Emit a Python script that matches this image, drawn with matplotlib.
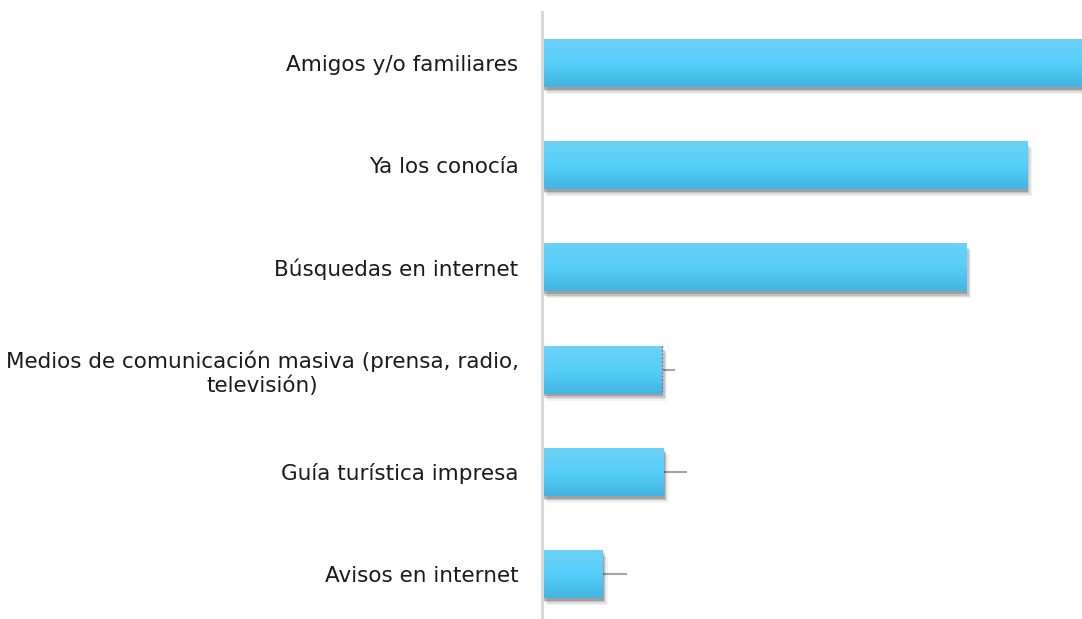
import numpy as np
import matplotlib
matplotlib.use('Agg')
import matplotlib.pyplot as plt
import matplotlib.patheffects as pe
from matplotlib.colors import LinearSegmentedColormap

# data (arbitrary % scale)
categories = ['Amigos y/o familiares',
              'Ya los conocía',
              'Búsquedas en internet',
              'Medios de comunicación masiva (prensa, radio,\ntelevisión)',
              'Guía turística impresa',
              'Avisos en internet']
values = [42.0, 35.9, 31.4, 8.9, 9.0, 4.5]
errors = [0.0, 0.0, 0.0, 1.0, 1.8, 1.8]

plt.rcParams['font.family'] = ['DejaVu Sans']

fig = plt.figure(figsize=(10.82, 6.19), dpi=100)
ax = fig.add_axes([541.5/1082, 0.0, 1 - 541.5/1082, 1 - 12/619])

ypos = np.arange(len(categories))
h = 0.47

grad = LinearSegmentedColormap.from_list('g', ['#6ed1f6', '#55cffa', '#43b5e3'])
gimg = np.linspace(0, 1, 64).reshape(-1, 1)

shadow = [pe.SimplePatchShadow(offset=(4, -5), shadow_rgbFace='k', alpha=0.05),
          pe.SimplePatchShadow(offset=(3, -4), shadow_rgbFace='k', alpha=0.08),
          pe.SimplePatchShadow(offset=(2, -3), shadow_rgbFace='k', alpha=0.12),
          pe.SimplePatchShadow(offset=(1, -2), shadow_rgbFace='k', alpha=0.18),
          pe.Normal()]

bars = ax.barh(ypos, values, height=h, color='#55cffa', zorder=2)
for b in bars:
    b.set_path_effects(shadow)
    x0, y0 = b.get_x(), b.get_y()
    im = ax.imshow(gimg, cmap=grad, aspect='auto', zorder=3,
                   extent=[x0, x0 + b.get_width(), y0 + b.get_height(), y0])
    im.set_clip_path(b)

for i, (v, e) in enumerate(zip(values, errors)):
    if e > 0:
        ax.errorbar(v, i, xerr=[[0], [e]], fmt='none', ecolor='#a6a6a6',
                    elinewidth=1.5, capsize=0, zorder=1)

# small red dotted edge on the media bar
ax.plot([values[3], values[3]], [3 - h/2, 3 + h/2], color='#e0406a',
        ls=':', lw=1, zorder=4)

ax.set_xlim(0, 40)
ax.set_ylim(5.44, -0.5)
ax.set_yticks(ypos)
ax.set_yticklabels(categories, fontsize=15.5, color='#1a1a1a', multialignment='center')
ax.tick_params(axis='y', length=0, pad=16.5)
ax.set_xticks([])
for s in ['top', 'right', 'bottom']:
    ax.spines[s].set_visible(False)
ax.spines['left'].set_color('#d9d9d9')
ax.spines['left'].set_linewidth(2.2)
ax.spines['left'].set_zorder(5)

fig.savefig('out.png', dpi=100)
